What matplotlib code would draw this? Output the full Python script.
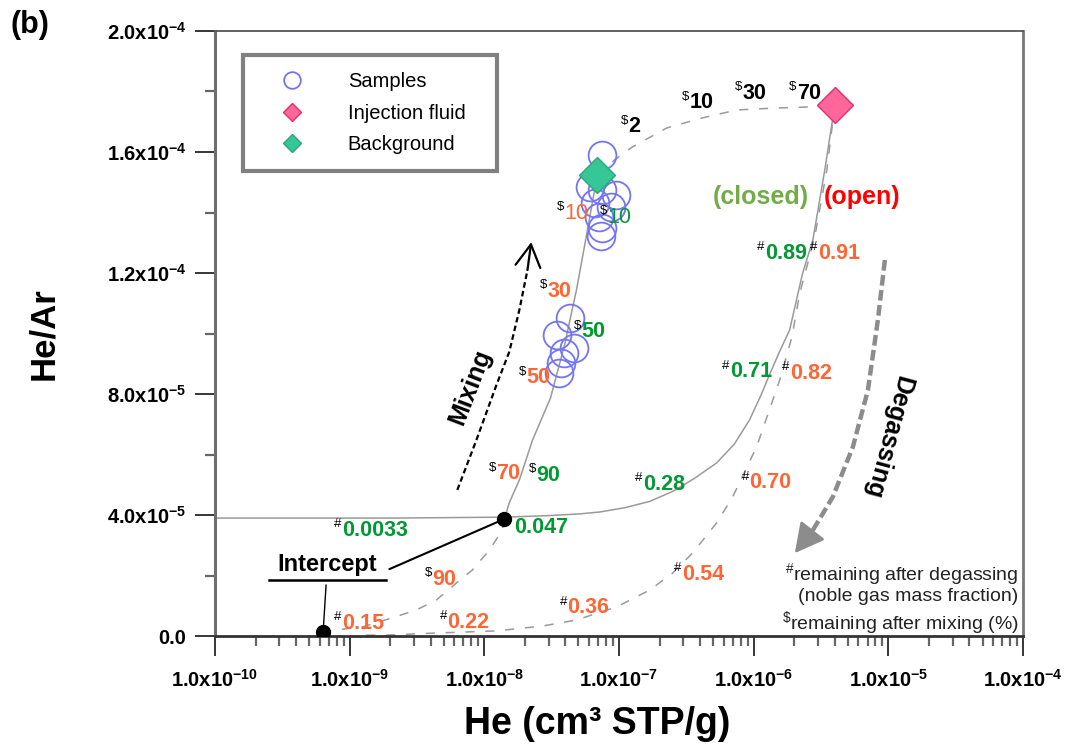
import matplotlib
matplotlib.use('Agg')
import matplotlib.pyplot as plt
from matplotlib.lines import Line2D

plt.rcParams['font.family'] = ['Liberation Sans', 'DejaVu Sans']
plt.rcParams['mathtext.default'] = 'regular'

# --- data ---------------------------------------------------------------
samples_he = [7.53e-8, 6.04e-8, 7.53e-8, 9.57e-8, 6.58e-8, 8.79e-8, 7.16e-8, 7.53e-8, 7.41e-8,
              4.29e-8, 3.49e-8, 4.67e-8, 3.93e-8, 3.73e-8, 3.61e-8]
samples_hear = [15.90e-5, 14.84e-5, 14.74e-5, 14.58e-5, 14.31e-5, 14.18e-5, 13.85e-5, 13.49e-5, 13.22e-5,
                10.51e-5, 9.95e-5, 9.52e-5, 9.36e-5, 9.02e-5, 8.69e-5]

injection_he, injection_hear = 4.0e-6, 17.55e-5
background_he, background_hear = 6.9e-8, 15.24e-5

intercept_he = [1.41e-8, 6.35e-10]
intercept_hear = [3.87e-5, 0.13e-5]

# mixing background -> intercept (solid)
mix_low_he = [6.9e-8, 5.83e-8, 4.83e-8, 3.94e-8, 3.10e-8, 2.28e-8, 1.82e-8, 1.53e-8, 1.41e-8]
mix_low_hear = [15.24e-5, 13.42e-5, 11.44e-5, 9.62e-5, 7.87e-5, 6.48e-5, 5.16e-5, 4.40e-5, 3.87e-5]
# mixing continued to lower intercept (dashed)
mix_ext_he = [1.41e-8, 1.36e-8, 1.09e-8, 8.14e-9, 6.19e-9, 4.40e-9, 3.12e-9, 2.07e-9, 1.24e-9, 7.94e-10, 6.35e-10]
mix_ext_hear = [3.87e-5, 3.50e-5, 2.84e-5, 2.18e-5, 1.75e-5, 1.19e-5, 0.86e-5, 0.60e-5, 0.30e-5, 0.20e-5, 0.13e-5]
# mixing background -> injection fluid (dashed)
mix_up_he = [6.9e-8, 9.27e-8, 1.26e-7, 2.25e-7, 4.10e-7, 7.48e-7, 1.41e-6, 2.61e-6, 4.0e-6]
mix_up_hear = [15.24e-5, 15.74e-5, 16.17e-5, 16.79e-5, 17.12e-5, 17.39e-5, 17.45e-5, 17.49e-5, 17.55e-5]

# degassing, closed system (solid)
closed_he = [1e-10, 2.33e-9, 1.41e-8, 3.0e-8, 5.2e-8, 7.2e-8, 1.1e-7, 1.69e-7, 2.5e-7, 3.6e-7,
             5.3e-7, 7.2e-7, 9.3e-7, 1.13e-6, 1.30e-6, 1.52e-6, 1.85e-6, 2.31e-6, 2.75e-6, 3.37e-6, 4.0e-6]
closed_hear = [3.90e-5, 3.90e-5, 3.93e-5, 3.98e-5, 4.04e-5, 4.10e-5, 4.24e-5, 4.45e-5, 4.78e-5, 5.20e-5,
               5.72e-5, 6.35e-5, 7.14e-5, 7.95e-5, 8.60e-5, 9.30e-5, 10.12e-5, 12.0e-5, 13.09e-5, 15.40e-5, 17.55e-5]
# degassing, open system (dashed)
open_he = [4.0e-6, 3.49e-6, 2.84e-6, 2.20e-6, 1.92e-6, 1.56e-6, 1.05e-6, 6.98e-7, 5.31e-7, 3.51e-7,
           2.50e-7, 1.69e-7, 9.57e-8, 4.83e-8, 2.70e-8, 1.23e-8, 4.40e-9, 1.87e-9, 1.18e-9]
open_hear = [17.55e-5, 15.40e-5, 13.19e-5, 11.34e-5, 9.88e-5, 8.46e-5, 6.25e-5, 4.60e-5, 3.74e-5, 2.74e-5,
             2.08e-5, 1.52e-5, 0.96e-5, 0.53e-5, 0.33e-5, 0.17e-5, 0.10e-5, 0.03e-5, 0.03e-5]

# arrows
mixing_arrow_he = [6.30e-9, 8.73e-9, 1.23e-8, 1.53e-8, 1.82e-8, 2.09e-8, 2.23e-8]
mixing_arrow_hear = [4.83e-5, 6.48e-5, 8.30e-5, 9.39e-5, 10.78e-5, 12.10e-5, 13.02e-5]
degas_arrow_he = [9.42e-6, 8.36e-6, 7.05e-6, 5.45e-6, 3.87e-6, 2.75e-6, 2.02e-6]
degas_arrow_hear = [12.43e-5, 10.45e-5, 8.13e-5, 6.25e-5, 4.60e-5, 3.50e-5, 2.74e-5]

# point labels: x, y (left/centre of the number), text, prefix, colour, bold
lab_x = [1.18e-7, 3.34e-7, 8.28e-7, 2.09e-6,
         3.94e-8, 2.94e-8, 2.05e-8, 1.23e-8, 4.10e-9,
         8.2e-8, 5.26e-8, 2.44e-8, 1.67e-8, 8.8e-10, 1.50e-7, 6.64e-7, 1.21e-6,
         2.99e-6, 1.85e-6, 9.3e-7, 2.92e-7, 4.14e-8, 5.31e-9, 8.8e-10]
lab_y = [16.83e-5, 17.62e-5, 17.95e-5, 17.95e-5,
         13.98e-5, 11.40e-5, 8.53e-5, 5.36e-5, 1.88e-5,
         13.85e-5, 10.05e-5, 5.32e-5, 3.60e-5, 3.50e-5, 5.02e-5, 8.73e-5, 12.66e-5,
         12.66e-5, 8.69e-5, 5.06e-5, 2.05e-5, 0.93e-5, 0.46e-5, 0.43e-5]
lab_txt = ['2', '10', '30', '70',
           '10', '30', '50', '70', '90',
           '10', '50', '90', '0.047', '0.0033', '0.28', '0.71', '0.89',
           '0.91', '0.82', '0.70', '0.54', '0.36', '0.22', '0.15']
lab_pre = ['$', '$', '$', '$',
           '$', '$', '$', '$', '$',
           '$', '$', '$', '', '#', '#', '#', '#',
           '#', '#', '#', '#', '#', '#', '#']
lab_col = ['black'] * 4 + ['#FF6633'] * 5 + ['#009933'] * 8 + ['#FF6633'] * 7
lab_bold = [True] * 4 + [False, True, True, True, True] + [False] + [True] * 7 + [True] * 7

x_ticks = [1e-10, 1e-9, 1e-8, 1e-7, 1e-6, 1e-5, 1e-4]
x_ticklabels = ['1.0x10$^{-10}$', '1.0x10$^{-9}$', '1.0x10$^{-8}$', '1.0x10$^{-7}$',
                '1.0x10$^{-6}$', '1.0x10$^{-5}$', '1.0x10$^{-4}$']
y_ticks = [0, 4e-5, 8e-5, 1.2e-4, 1.6e-4, 2.0e-4]
y_ticklabels = ['0.0', '4.0x10$^{-5}$', '8.0x10$^{-5}$', '1.2x10$^{-4}$', '1.6x10$^{-4}$', '2.0x10$^{-4}$']
y_minor = [2e-5, 6e-5, 1e-4, 1.4e-4, 1.8e-4]

# --- figure ----------------------------------------------------------------
fig = plt.figure(figsize=(10.66, 7.56), dpi=100)
ax = fig.add_axes([0.2017, 0.1587, 0.758, 0.8003])
ax.set_xscale('log')
ax.set_xlim(1e-10, 1e-4)
ax.set_ylim(0, 2e-4)

line_grey = '#9a9a9a'
ax.plot(mix_low_he, mix_low_hear, color=line_grey, lw=1.1, zorder=2)
ax.plot(mix_ext_he, mix_ext_hear, color=line_grey, lw=1.1, ls=(0, (6, 7)), zorder=2)
ax.plot(mix_up_he, mix_up_hear, color=line_grey, lw=1.1, ls=(0, (6, 7)), zorder=2)
ax.plot(closed_he, closed_hear, color=line_grey, lw=1.1, zorder=2)
ax.plot(open_he, open_hear, color=line_grey, lw=1.1, ls=(0, (6, 7)), zorder=2)

# mixing arrow
ax.plot(mixing_arrow_he[:-1], mixing_arrow_hear[:-1], color='black', lw=1.6, ls=(0, (2.5, 1.5)), zorder=3)
ax.annotate('', xy=(mixing_arrow_he[-1], mixing_arrow_hear[-1]),
            xytext=(mixing_arrow_he[-2], mixing_arrow_hear[-2]),
            arrowprops=dict(arrowstyle='->,head_length=1.6,head_width=0.9', lw=1.6, color='black',
                            shrinkA=0, shrinkB=0, mutation_scale=10), zorder=3)
# degassing arrow
ax.plot(degas_arrow_he[:-1], degas_arrow_hear[:-1], color='#8c8c8c', lw=3.2, ls=(0, (2.4, 1.0)), zorder=3)
ax.annotate('', xy=(degas_arrow_he[-1], degas_arrow_hear[-1]),
            xytext=(degas_arrow_he[-2], degas_arrow_hear[-2]),
            arrowprops=dict(arrowstyle='-|>,head_length=1.8,head_width=0.95', lw=2, color='#8c8c8c',
                            shrinkA=0, shrinkB=0, mutation_scale=10), zorder=3)

# markers
ax.plot(samples_he, samples_hear, 'o', ms=20, mfc='none', mec='#7474F6', mew=1.3, zorder=4)
ax.plot([background_he], [background_hear], 'D', ms=18, mfc='#35C796', mec='#2BA57C', mew=1, zorder=5)
ax.plot([injection_he], [injection_hear], 'D', ms=18, mfc='#FF6699', mec='#E0306A', mew=1, zorder=5)
ax.plot(intercept_he, intercept_hear, 'o', ms=10, color='black', zorder=6)

# point labels
for x, y, t, p, c, b in zip(lab_x, lab_y, lab_txt, lab_pre, lab_col, lab_bold):
    ax.text(x, y, t, color=c, fontsize=15.5, fontweight='bold' if b else 'normal',
            ha='left', va='center', zorder=7)
    if p:
        ax.annotate(p, xy=(x, y), xytext=(-0.3, 0), textcoords='offset points',
                    ha='right', va='bottom', fontsize=9.5, color='black', zorder=7)

# intercept callout
ax.text(6.81e-10, 2.35e-5, 'Intercept', fontsize=17, fontweight='bold', ha='center', va='center')
ax.plot([2.52e-10, 1.87e-9], [1.85e-5, 1.85e-5], color='black', lw=1.8)
ax.annotate('', xy=(intercept_he[0], intercept_hear[0]), xytext=(1.97e-9, 2.21e-5),
            arrowprops=dict(arrowstyle='-', lw=1.5, color='black', shrinkA=0, shrinkB=3))
ax.annotate('', xy=(intercept_he[1], intercept_hear[1]), xytext=(6.68e-10, 1.69e-5),
            arrowprops=dict(arrowstyle='-', lw=1.0, color='black', shrinkA=0, shrinkB=3))

# process texts
ax.text(0.676, 0.725, '(closed)', transform=ax.transAxes, color='#70AD47', fontsize=18,
        fontweight='bold', ha='center', va='center')
ax.text(0.801, 0.725, '(open)', transform=ax.transAxes, color='#FF0000', fontsize=18,
        fontweight='bold', ha='center', va='center')
ax.text(0.316, 0.411, 'Mixing', transform=ax.transAxes, fontsize=18, fontweight='bold',
        rotation=69, ha='center', va='center', rotation_mode='anchor')
ax.text(0.832, 0.329, 'Degassing', transform=ax.transAxes, fontsize=18, fontweight='bold',
        rotation=-105, ha='center', va='center', rotation_mode='anchor')

# footnotes
ax.text(0.994, 0.1025, r'$^{\#}$remaining after degassing', transform=ax.transAxes,
        fontsize=14, ha='right', va='center', color='#222222')
ax.text(0.994, 0.0645, '(noble gas mass fraction)', transform=ax.transAxes,
        fontsize=14, ha='right', va='center', color='#222222')
ax.text(0.994, 0.0215, r'$^{\$}$remaining after mixing (%)', transform=ax.transAxes,
        fontsize=14, ha='right', va='center', color='#222222')

# axes styling
ax.set_xticks(x_ticks)
ax.set_xticklabels(x_ticklabels, fontsize=14.5, fontweight='bold')
ax.set_yticks(y_ticks)
ax.set_yticklabels(y_ticklabels, fontsize=14.5, fontweight='bold')
ax.set_yticks(y_minor, minor=True)
ax.tick_params(axis='both', which='major', direction='out', length=14.5, width=1.1, color='black')
ax.tick_params(axis='x', which='major', pad=9)
ax.tick_params(axis='y', which='major', pad=6)
ax.tick_params(axis='both', which='minor', direction='out', length=7.5, width=1.6, color='#666666')

ax.spines['left'].set_color('#6e6e6e')
ax.spines['left'].set_linewidth(2.2)
ax.spines['bottom'].set_color('#333333')
ax.spines['bottom'].set_linewidth(2.0)
ax.spines['top'].set_color('#555555')
ax.spines['top'].set_linewidth(1.3)
ax.spines['right'].set_color('#777777')
ax.spines['right'].set_linewidth(2.0)

ax.set_xlabel('He (cm³ STP/g)', fontsize=27, fontweight='bold')
ax.xaxis.set_label_coords(0.473, -0.115)
ax.set_ylabel('He/Ar', fontsize=25, fontweight='bold')
ax.yaxis.set_label_coords(-0.192, 0.5)

fig.text(10 / 1066, 1 - 25 / 756, '(b)', fontsize=22, fontweight='bold', va='center', ha='left')

handles = [
    Line2D([], [], marker='o', ls='none', mfc='none', mec='#7474F6', mew=1.3, ms=12),
    Line2D([], [], marker='D', ls='none', mfc='#FF6699', mec='#E0306A', ms=9),
    Line2D([], [], marker='D', ls='none', mfc='#35C796', mec='#2BA57C', ms=9),
]
leg = ax.legend(handles, ['Samples', 'Injection fluid', 'Background'],
                bbox_to_anchor=(243 / 1066, 1 - 170 / 756, 254 / 1066, 115 / 756),
                bbox_transform=fig.transFigure, loc='upper left', mode='expand',
                borderaxespad=0, borderpad=0.85, labelspacing=0.62, handlelength=3.2,
                handletextpad=1.15, fontsize=14.5, fancybox=False, framealpha=1)
leg.get_frame().set_edgecolor('#808080')
leg.get_frame().set_linewidth(3)

fig.savefig('out.png', dpi=100)
